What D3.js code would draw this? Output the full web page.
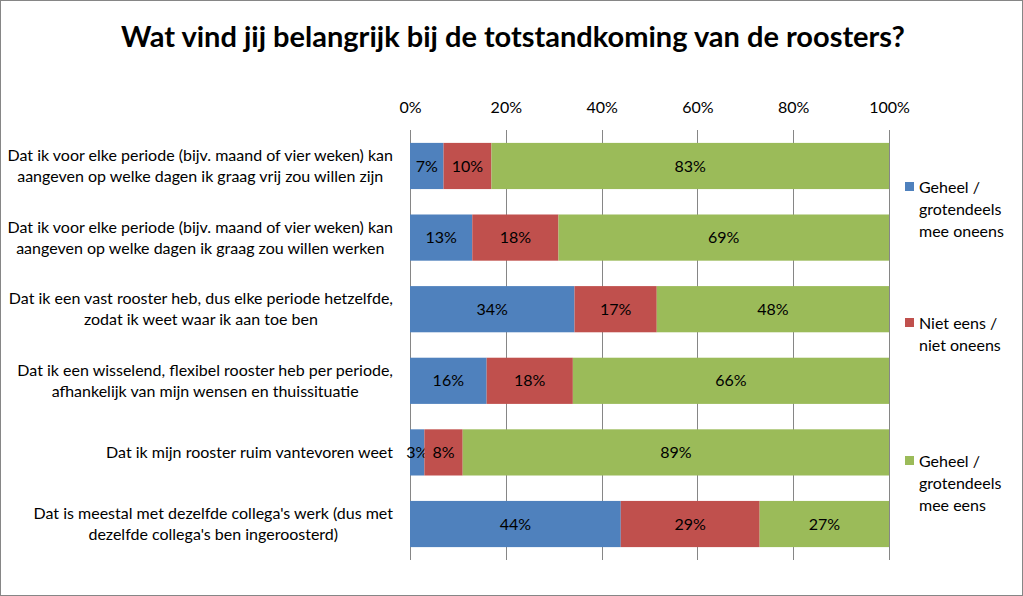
<!DOCTYPE html>
<html><head><meta charset="utf-8">
<script src="https://cdn.jsdelivr.net/npm/d3@7"></script>
<style>body{margin:0;background:#fff}svg{display:block}text{font-family:Lato,"Open Sans",sans-serif}</style>
</head><body>
<svg id="c" width="1023" height="596"></svg>
<script>
const title = "Wat vind jij belangrijk bij de totstandkoming van de roosters?";
const categories = [
  ["Dat ik voor elke periode (bijv. maand of vier weken) kan", "aangeven op welke dagen ik graag vrij zou willen zijn"],
  ["Dat ik voor elke periode (bijv. maand of vier weken) kan", "aangeven op welke dagen ik graag zou willen werken"],
  ["Dat ik een vast rooster heb, dus elke periode hetzelfde,", "zodat ik weet waar ik aan toe ben"],
  ["Dat ik een wisselend, flexibel rooster heb per periode,", "afhankelijk van mijn wensen en thuissituatie"],
  ["Dat ik mijn rooster ruim vantevoren weet"],
  ["Dat is meestal met dezelfde collega's werk (dus met", "dezelfde collega's ben ingeroosterd)"]
];
const seriesNames = [
  ["Geheel /", "grotendeels", "mee oneens"],
  ["Niet eens /", "niet oneens"],
  ["Geheel /", "grotendeels", "mee eens"]
];
const oneens = [7, 13, 34, 16, 3, 44];
const neutraal = [10, 18, 17, 18, 8, 29];
const eens = [83, 69, 48, 66, 89, 27];
const ticks = [0, 0.2, 0.4, 0.6, 0.8, 1];
const colors = ["#4F81BD", "#C0504D", "#9BBB59"];

(function(){
const svg = d3.select("#c");
svg.append("rect").attr("x",0.5).attr("y",0.5).attr("width",1022).attr("height",595)
  .attr("fill","#fff").attr("stroke","#868686");

svg.append("text").attr("x",513).attr("y",47).attr("text-anchor","middle")
  .attr("font-size",29).attr("font-weight","bold").attr("fill","#000").text(title);

const pl = 410, pr = 889, pt = 130, pb = 560;
const rows = categories.map((c,i)=>({i, a:oneens[i], b:neutraal[i], c:eens[i]}));
const stack = d3.stack().keys(["a","b","c"]).offset(d3.stackOffsetExpand)(rows);

const x = d3.scaleLinear().domain([0,1]).range([pl,pr]);
const y = d3.scaleBand().domain(d3.range(categories.length)).range([pt,pb]).paddingInner(0.355).paddingOuter(0.18);

svg.append("g").selectAll("line").data(ticks).join("line")
  .attr("x1",d=>Math.round(x(d))+0.5).attr("x2",d=>Math.round(x(d))+0.5)
  .attr("y1",pt).attr("y2",pb).attr("stroke","#868686").attr("stroke-width",1);

const ax = svg.append("g").attr("transform",`translate(0,${pt})`)
  .call(d3.axisTop(x).tickValues(ticks).tickFormat(d3.format(".0%")).tickSize(0).tickPadding(17));
ax.select(".domain").remove();
ax.selectAll("text").attr("font-size",16).attr("fill","#000").attr("font-family","Lato");

const layers = svg.append("g").selectAll("g").data(stack).join("g").attr("fill",(d,i)=>colors[i]);
layers.selectAll("rect").data(d=>d).join("rect")
  .attr("x",d=>x(d[0])).attr("width",d=>x(d[1])-x(d[0]))
  .attr("y",d=>y(d.data.i)).attr("height",y.bandwidth());
const vals = [oneens, neutraal, eens];
layers.each(function(layer,k){
  d3.select(this).selectAll("text").data(layer).join("text")
    .attr("x",d=>(x(d[0])+x(d[1]))/2).attr("y",d=>y(d.data.i)+y.bandwidth()/2)
    .attr("dy","0.35em").attr("text-anchor","middle").attr("font-size",16).attr("fill","#000")
    .text((d,j)=>vals[k][j]+"%");
});

const lab = svg.append("g");
categories.forEach((lines,i)=>{
  const g = lab.append("g");
  const cy = y(i)+y.bandwidth()/2;
  const lh = 21;
  const t = g.selectAll("text").data(lines).join("text")
    .attr("y",(d,j)=>cy+(j-(lines.length-1)/2)*lh).attr("dy","0.35em")
    .attr("font-size",16).attr("fill","#000").attr("text-anchor","middle").text(d=>d);
  let maxW = 0; t.each(function(){maxW=Math.max(maxW,this.getComputedTextLength());});
  t.attr("x",393-maxW/2);
});

const legY = [187, 323, 461];
seriesNames.forEach((lines,i)=>{
  svg.append("rect").attr("x",905).attr("y",legY[i]-5).attr("width",9).attr("height",9).attr("fill",colors[i]);
  svg.append("g").selectAll("text").data(lines).join("text")
    .attr("x",919).attr("y",(d,j)=>legY[i]+j*22).attr("dy","0.35em")
    .attr("font-size",16).attr("fill","#000").text(d=>d);
});
})();
</script>
</body></html>
